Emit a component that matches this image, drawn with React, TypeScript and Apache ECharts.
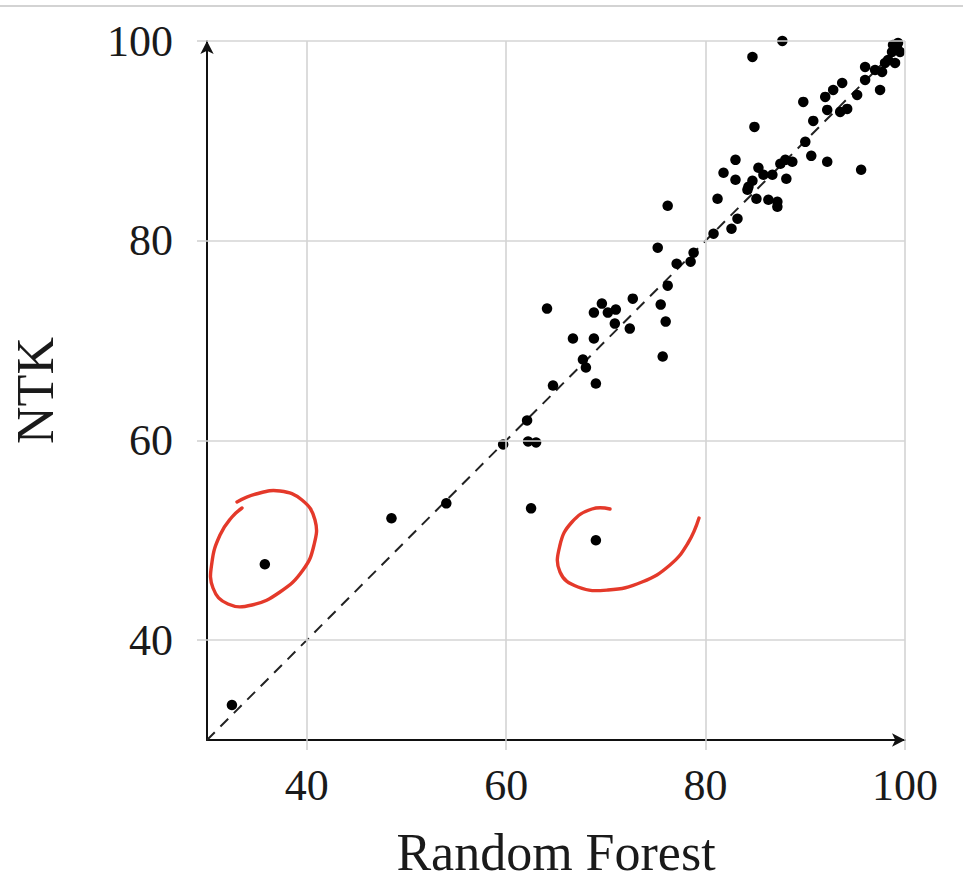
import React, { useEffect, useRef } from "react";
import * as echarts from "echarts";

// Random Forest accuracy (x) and NTK accuracy (y), one pair per dataset
const rfScores = [
  32.5, 35.8, 48.5, 54.0, 59.7, 62.5, 62.1, 62.2, 63.0, 69.0, 64.7, 69.0,
  64.1, 66.7, 68.8, 67.7, 68.0, 68.8, 69.6, 70.2, 71.0, 70.9, 72.4, 72.7,
  75.5, 76.0, 75.7, 76.2, 75.2, 77.1, 78.5, 78.8, 76.2, 80.8,
  82.6, 83.2, 81.2, 85.1, 86.3, 87.2, 87.2, 84.2, 84.3, 84.7, 83.0, 85.8,
  86.7, 88.1, 81.8, 85.3, 87.5, 88.0, 88.7, 83.0, 90.6, 92.2, 90.0, 84.9,
  90.8, 92.2, 93.5, 94.2, 89.8, 92.0, 92.8, 93.7, 95.2, 95.6, 97.5, 96.0,
  96.0, 97.0, 97.7, 98.0, 99.0, 98.3, 98.7, 99.5, 99.2, 98.8, 99.3, 99.8,
  84.7, 87.7,
];
const ntkScores = [
  33.5, 47.6, 52.2, 53.7, 59.6, 53.2, 62.0, 59.9, 59.8, 50.0, 65.5, 65.7,
  73.2, 70.2, 70.2, 68.1, 67.3, 72.8, 73.7, 72.8, 73.1, 71.7, 71.2, 74.2,
  73.6, 71.9, 68.4, 75.5, 79.3, 77.7, 77.9, 78.8, 83.5, 80.7,
  81.2, 82.2, 84.2, 84.2, 84.1, 83.9, 83.4, 85.1, 85.4, 86.0, 86.1, 86.6,
  86.6, 86.2, 86.8, 87.3, 87.7, 88.1, 87.9, 88.1, 88.5, 87.9, 89.9, 91.4,
  92.0, 93.1, 92.9, 93.2, 93.9, 94.4, 95.1, 95.8, 94.6, 87.1, 95.1, 96.1,
  97.4, 97.1, 96.9, 97.8, 97.8, 98.1, 98.9, 98.9, 99.3, 99.6, 99.8, 100.1,
  98.4, 100.0,
];
const axisMin = 30;
const axisMax = 100;
const tickValues = [40, 60, 80, 100];
const xName = "Random Forest";
const yName = "NTK";

const FONT = "Liberation Serif";

export default function App() {
  const ref = useRef<HTMLDivElement>(null);

  useEffect(() => {
    if (!ref.current) return;
    const chart = echarts.init(ref.current, null, { renderer: "svg" });
    const points = rfScores.map((x, i) => [x, ntkScores[i]]);

    const axisCommon = {
      type: "value",
      min: axisMin,
      max: axisMax,
      interval: 10,
      nameLocation: "middle",
      nameTextStyle: { fontFamily: FONT, fontSize: 52, color: "#1a1a1a" },
      axisLine: {
        show: true,
        symbol: ["none", "arrow"],
        symbolSize: [10, 13],
        lineStyle: { color: "#111", width: 2 },
      },
      axisTick: {
        show: true,
        inside: false,
        length: 10,
        customValues: tickValues,
        lineStyle: { color: "#cfcfcf", width: 1.5 },
      },
      axisLabel: {
        customValues: tickValues,
        fontFamily: FONT,
        fontSize: 44,
        color: "#1a1a1a",
        formatter: (v: number) => (tickValues.includes(v) ? String(v) : ""),
      },
      splitLine: { show: false },
    };

    const redStroke = { stroke: "#e4392a", lineWidth: 3.4, fill: "none", lineCap: "round", lineJoin: "round" };

    chart.setOption({
      animation: false,
      backgroundColor: "#ffffff",
      grid: { left: 207, right: 58, top: 41, bottom: 143, containLabel: false },
      xAxis: {
        ...axisCommon,
        name: xName,
        nameGap: 86,
        axisLabel: { ...axisCommon.axisLabel, margin: 23 },
      },
      yAxis: {
        ...axisCommon,
        name: yName,
        nameGap: 146,
        nameRotate: 90,
        axisLabel: { ...axisCommon.axisLabel, margin: 34 },
      },
      series: [
        {
          type: "line",
          data: [
            [axisMin, axisMin],
            [axisMax, axisMax],
          ],
          showSymbol: false,
          symbol: "none",
          lineStyle: { color: "#222", width: 2, type: [11, 8] },
          silent: true,
          z: 1,
          markLine: {
            silent: true,
            symbol: "none",
            label: { show: false },
            lineStyle: { color: "#d4d4d4", width: 1.6, type: "solid" },
            data: [
              ...tickValues.map((v) => ({ xAxis: v })),
              ...tickValues.map((v) => ({ yAxis: v })),
            ],
          },
        },
        {
          type: "scatter",
          data: points,
          symbol: "circle",
          symbolSize: 10.5,
          itemStyle: { color: "#000", opacity: 1 },
          z: 3,
        },
      ],
      graphic: [
        {
          type: "line",
          shape: { x1: 0, y1: 6, x2: 963, y2: 6 },
          style: { stroke: "#c4c4c4", lineWidth: 1.5 },
        },
        {
          type: "polyline",
          shape: {
            points: [
              [237, 502],
              [256, 494],
              [280, 491],
              [302, 500],
              [315, 520],
              [314, 545],
              [303, 570],
              [280, 592],
              [252, 605],
              [228, 604],
              [213, 588],
              [212, 562],
              [220, 535],
              [232, 517],
              [242, 508],
            ],
            smooth: 0.45,
          },
          style: redStroke,
          z: 10,
        },
        {
          type: "polyline",
          shape: {
            points: [
              [610, 509],
              [592, 509],
              [572, 522],
              [560, 545],
              [560, 572],
              [578, 587],
              [608, 590],
              [642, 582],
              [670, 565],
              [688, 543],
              [699, 518],
            ],
            smooth: 0.45,
          },
          style: redStroke,
          z: 10,
        },
      ],
    });

    return () => chart.dispose();
  }, []);

  return (
    <div
      ref={ref}
      style={{ position: "fixed", left: 0, top: 0, width: 963, height: 883, background: "#fff" }}
    />
  );
}
